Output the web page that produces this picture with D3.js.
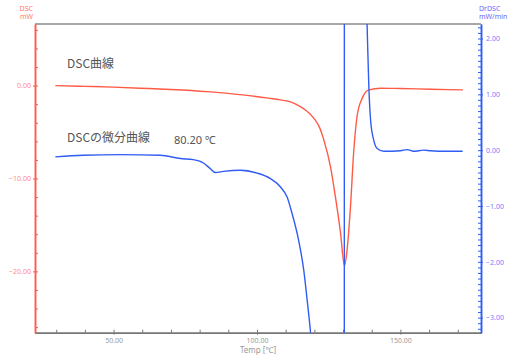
<!DOCTYPE html>
<html lang="ja">
<head>
<meta charset="utf-8">
<title>DSC</title>
<script src="https://cdn.jsdelivr.net/npm/d3@7"></script>
<style>
  body { margin: 0; background: #fff; }
  svg text { font-family: "Noto Sans", "Noto Sans CJK JP", sans-serif; }
  .jp { font-family: "Noto Sans CJK JP", "Noto Sans", sans-serif; }
</style>
</head>
<body>
<div id="chart"></div>
<script>
// DSC curve (mW), left axis
var dscTemp  = [29.7, 40, 50, 59.3, 70, 82.6, 95, 104, 108.2, 111.7, 114, 117, 119.8, 121.8, 123.3, 125.6, 127.3, 129.1, 130.5, 131.4, 132.6, 133.7, 134.9, 136.7, 139.0, 143.1, 150, 160.5, 171.8];
var dscValue = [0, -0.08, -0.17, -0.28, -0.42, -0.65, -1.0, -1.35, -1.54, -1.75, -2.07, -2.65, -3.5, -4.5, -5.84, -8.7, -11.9, -15.8, -19.4, -17.7, -13.0, -7.2, -3.3, -1.35, -0.46, -0.28, -0.32, -0.39, -0.46];

// derivative of DSC (mW/min), right axis; points beyond the frame are clipped
var derivTemp  = [29.7, 39.4, 52.4, 66.3, 73.3, 77.8, 80.2, 81.3, 83.7, 85.5, 88.3, 94.2, 100.0, 104.7, 108.2, 110.5, 112.2, 114.5, 116.3, 117.5, 118.6, 120, 125, 130.4, 130.5, 134, 137, 138.4, 139.0, 139.6, 140.7, 141.9, 144.2, 150.0, 152.4, 154.6, 158.1, 160.5, 166, 171.7];
var derivValue = [-0.12, -0.09, -0.08, -0.09, -0.15, -0.17, -0.2, -0.23, -0.33, -0.40, -0.38, -0.36, -0.41, -0.51, -0.66, -0.84, -1.13, -1.61, -2.15, -2.69, -3.23, -4.2, -9, -25, 25, 10, 4, 2.21, 1.13, 0.54, 0.18, 0.03, -0.02, -0.01, 0.01, -0.02, 0, -0.01, -0.02, -0.02];

var xLabelTicks = [50, 100, 150];
var leftLabelTicks = [-20, -10, 0];
var rightLabelTicks = [-3, -2, -1, 0, 1, 2];

var width = 514, height = 356;
var plotLeft = 35, plotRight = 481, plotTop = 24, plotBottom = 332.7;

var red = "#ff5a45", blue = "#2f5cf5";

var svg = d3.select("#chart").append("svg")
    .attr("width", width)
    .attr("height", height);

var x = d3.scaleLinear().domain([22.6, 178.1]).range([plotLeft, plotRight]);
var yL = d3.scaleLinear().domain([-26.6, 6.63]).range([plotBottom, plotTop]);
var yR = d3.scaleLinear().domain([-3.27, 2.26]).range([plotBottom, plotTop]);

svg.append("clipPath").attr("id", "plot")
  .append("rect")
    .attr("x", plotLeft).attr("y", plotTop)
    .attr("width", plotRight - plotLeft).attr("height", plotBottom - plotTop);

// top frame line
svg.append("line")
    .attr("x1", plotLeft).attr("x2", plotRight)
    .attr("y1", plotTop).attr("y2", plotTop)
    .attr("stroke", "#8a8a8a").attr("stroke-width", 1.5);

// x axis
var fmt = d3.format(".2f");
var xMinor = svg.append("g").attr("transform", "translate(0," + plotBottom + ")")
    .call(d3.axisBottom(x).tickValues(d3.range(30, 171, 10)).tickSizeInner(-3).tickSizeOuter(0).tickFormat(""));
var xMajor = svg.append("g").attr("transform", "translate(0," + plotBottom + ")")
    .call(d3.axisBottom(x).tickValues(xLabelTicks).tickSizeInner(2).tickSizeOuter(0).tickPadding(3).tickFormat(fmt));
[xMinor, xMajor].forEach(function(g) {
  g.select(".domain").attr("stroke", "#777").attr("stroke-width", 1.5);
  g.selectAll(".tick line").attr("stroke", "#777");
});
xMajor.selectAll(".tick text").attr("fill", "#999").style("font-size", "7px");

svg.append("text")
    .attr("x", (plotLeft + plotRight) / 2).attr("y", 353)
    .attr("text-anchor", "middle")
    .attr("fill", "#999").style("font-size", "8px")
    .text("Temp [℃]");

// left axis (DSC)
var lMinor = svg.append("g").attr("transform", "translate(" + plotLeft + ",0)")
    .call(d3.axisLeft(yL).tickValues(d3.range(-26, 7, 2)).tickSizeInner(-3).tickSizeOuter(0).tickFormat(""));
var lMajor = svg.append("g").attr("transform", "translate(" + plotLeft + ",0)")
    .call(d3.axisLeft(yL).tickValues(leftLabelTicks).tickSizeInner(2).tickSizeOuter(0).tickPadding(2).tickFormat(fmt));
[lMinor, lMajor].forEach(function(g) {
  g.select(".domain").attr("stroke", red).attr("stroke-width", 1.5);
  g.selectAll(".tick line").attr("stroke", red);
});
lMajor.selectAll(".tick text").attr("fill", "#ff8a80").style("font-size", "7px");

// right axis (DrDSC)
var rMinor = svg.append("g").attr("transform", "translate(" + plotRight + ",0)")
    .call(d3.axisRight(yR).tickValues(d3.range(-32, 23).map(function(d) { return d / 10; })).tickSizeInner(-3).tickSizeOuter(0).tickFormat(""));
var rMajor = svg.append("g").attr("transform", "translate(" + plotRight + ",0)")
    .call(d3.axisRight(yR).tickValues(rightLabelTicks).tickSizeInner(2).tickSizeOuter(0).tickPadding(3).tickFormat(fmt));
[rMinor, rMajor].forEach(function(g) {
  g.select(".domain").attr("stroke", blue).attr("stroke-width", 1.5);
  g.selectAll(".tick line").attr("stroke", blue);
});
rMajor.selectAll(".tick text").attr("fill", "#7a7aff").style("font-size", "7px");

// axis unit labels
svg.append("text").attr("x", 33).attr("y", 11).attr("text-anchor", "end")
    .attr("fill", "#ff7a70").style("font-size", "7px").text("DSC");
svg.append("text").attr("x", 33).attr("y", 19).attr("text-anchor", "end")
    .attr("fill", "#ff7a70").style("font-size", "7px").text("mW");
svg.append("text").attr("x", 479).attr("y", 11)
    .attr("fill", "#6a6aff").style("font-size", "7px").text("DrDSC");
svg.append("text").attr("x", 479).attr("y", 19)
    .attr("fill", "#6a6aff").style("font-size", "7px").text("mW/min");

// curves
var plot = svg.append("g").attr("clip-path", "url(#plot)");

var dscLine = d3.line()
    .x(function(d, i) { return x(dscTemp[i]); })
    .y(function(d) { return yL(d); })
    .curve(d3.curveMonotoneX);

var derivLine = d3.line()
    .x(function(d, i) { return x(derivTemp[i]); })
    .y(function(d) { return yR(d); })
    .curve(d3.curveMonotoneX);

plot.append("path")
    .attr("d", dscLine(dscValue))
    .attr("fill", "none").attr("stroke", red).attr("stroke-width", 1.4);

plot.append("path")
    .attr("d", derivLine(derivValue))
    .attr("fill", "none").attr("stroke", blue).attr("stroke-width", 1.4);

// annotations
svg.append("text").attr("class", "jp").attr("x", 67).attr("y", 68)
    .attr("fill", "#555").style("font-size", "12px").text("DSC曲線");
svg.append("text").attr("class", "jp").attr("x", 67).attr("y", 141.5)
    .attr("fill", "#555").style("font-size", "12px").text("DSCの微分曲線");
svg.append("text").attr("x", 174).attr("y", 143.5)
    .attr("fill", "#555").style("font-size", "11px").text("80.20 ℃");
</script>
</body>
</html>
